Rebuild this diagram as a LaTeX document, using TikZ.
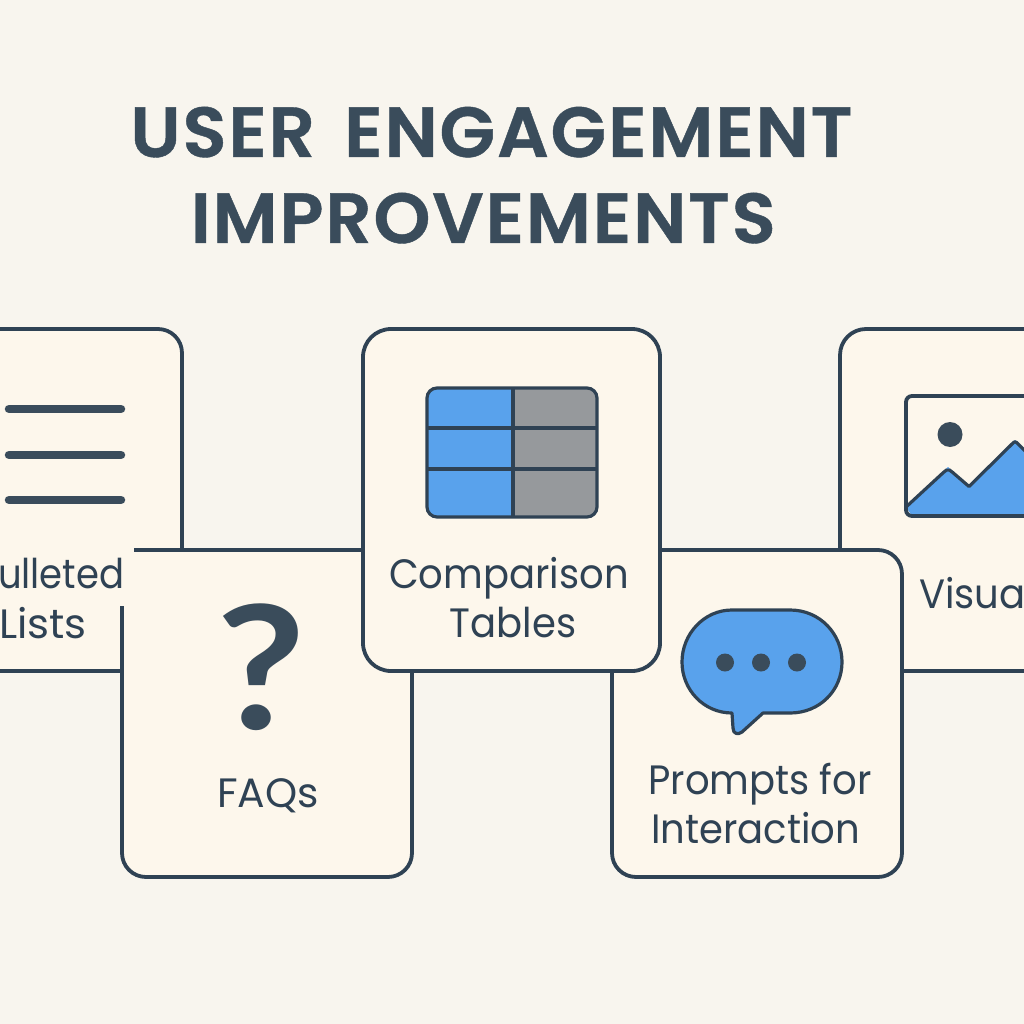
\documentclass[tikz,border=0pt]{standalone}
\usepackage{fontspec}
\setmainfont{Poppins}[FakeStretch=0.94]
\newfontfamily\titlefont[LetterSpace=2.4,FakeStretch=1.022,FakeBold=0.6]{Poppins SemiBold}
\newfontfamily\qfont{Lato Bold}
\definecolor{bgc}{HTML}{F8F5EE}
\definecolor{cardc}{HTML}{FDF7EC}
\definecolor{ink}{HTML}{2F4254}
\definecolor{titlec}{HTML}{3A4C5B}
\definecolor{bluec}{HTML}{59A2EC}
\definecolor{grayc}{HTML}{96999C}
\tikzset{
  edge/.style={draw=ink,line width=3.8pt,line cap=butt,line join=round},
  cardfill/.style={fill=cardc,draw=none},
  icon/.style={draw=ink,line width=3.2pt,line join=round},
  bar/.style={draw=titlec,line width=8.5pt,line cap=round},
  dot/.style={fill=titlec,draw=none},
  lab/.style={text=ink,inner sep=0pt,anchor=base,font=\fontsize{41}{41}\selectfont},
  ttl/.style={text=titlec,inner sep=0pt,anchor=base west,font=\titlefont\fontsize{71}{71}\selectfont}
}
\begin{document}
\begin{tikzpicture}[x=1pt,y=-1pt]
\useasboundingbox (0,0) rectangle (1024,1024);
\fill[bgc] (0,0) rectangle (1024,1024);
\clip (0,0) rectangle (1024,1024);
% title
\node[ttl] (t1) at (130,157) {USER\hspace{10pt} ENGAGEMENT};
\node[ttl] (t2) at (190.5,243) {IMPROVEMENTS};
% left card
\path[cardfill] (-30,329) [rounded corners=24pt] -- (182,329) -- (182,671) [sharp corners] -- (-30,671) -- cycle;
\draw[edge] (-30,329) [rounded corners=24pt] -- (182,329) [sharp corners] -- (182,552);
\draw[edge] (0,671) -- (122,671);
\foreach \yy in {409,455,500} \draw[bar] (9,\yy) -- (121,\yy);
% visuals card
\path[cardfill] (1054,329) [rounded corners=26pt] -- (840,329) -- (840,671) [sharp corners] -- (1054,671) -- cycle;
\draw[edge] (1054,329) [rounded corners=26pt] -- (840,329) [sharp corners] -- (840,552);
\draw[edge] (900,671) -- (1024,671);
\path[fill=cardc] (906,396) rectangle (1040,516);
\fill[bluec] (906,507) -- (948,467) -- (969,486.5) -- (1015,440) -- (1040,465) -- (1040,516) -- (912,516) -- cycle;
\draw[icon] (906,507) [rounded corners=2pt] -- (945,471) -- (948,469) -- (951,471) [sharp corners] -- (969,486.5) [rounded corners=2pt] -- (1012,444) -- (1015,441) -- (1018,444) [sharp corners] -- (1040,466);
\draw[edge] (1040,396) [rounded corners=6pt] -- (906,396) -- (906,516) [sharp corners] -- (1040,516);
\fill[dot] (950,434.5) ellipse [x radius=12.5pt,y radius=12.5pt];
% faq card
\path[cardfill] (122,550) -- (412,550) [rounded corners=24pt] -- (412,877) -- (122,877) [sharp corners] -- (122,550) -- cycle;
\draw[edge] (134,550) -- (370,550);
\draw[edge] (122,606) [rounded corners=24pt] -- (122,877) -- (412,877) [sharp corners] -- (412,660);
\node[text=titlec,inner sep=0pt,anchor=base,font=\qfont\fontsize{172}{172}\selectfont] (q) at (261,729) {\scalebox{1.13}[1]{?}};
\node[lab] (faq) at (268,807) {\scalebox{1.06}[1]{FAQs}};
\node[lab,anchor=base east] (b1) at (124.5,588) {\scalebox{0.96}[1]{ulleted}};
\node[lab,anchor=base east] (b2) at (87,638) {\scalebox{1.09}[1]{Lists}};
% prompts card
\path[cardfill] (612,550) [rounded corners=24pt] -- (902,550) -- (902,877) -- (612,877) [sharp corners] -- cycle;
\draw[edge] (640,550) [rounded corners=24pt] -- (902,550) -- (902,877) -- (612,877) [sharp corners] -- (612,660);
\draw[icon,fill=bluec] (732,713) -- (733,728) .. controls (733,734) and (738,735) .. (742,732) -- (763,713) -- (790,713)
  .. controls (820,713) and (842,690) .. (842,662) .. controls (842,634) and (820,610) .. (790,610) -- (732,610)
  .. controls (704,610) and (682,634) .. (682,662) .. controls (682,690) and (704,713) .. (732,713) -- cycle;
\foreach \xx in {725,761,797} \fill[dot] (\xx,662.5) circle [radius=9pt];
\node[lab] (p1) at (760,794.5) {Prompts for};
\node[lab] (p2) at (755.5,843) {Interaction};
\node[lab,anchor=base west] (v) at (919,608) {Visua};
% comparison card
\draw[edge,fill=cardc,rounded corners=28pt] (363,329) rectangle (660,671);
\begin{scope}
\path[clip,rounded corners=10pt] (427,388) rectangle (597,517);
\fill[bluec] (427,388) rectangle (513,517);
\fill[grayc] (513,388) rectangle (597,517);
\draw[ink,line width=3.2pt] (513,388) -- (513,517);
\draw[ink,line width=3.2pt] (427,428) -- (597,428);
\draw[ink,line width=3.2pt] (427,469) -- (597,469);
\end{scope}
\draw[icon,rounded corners=10pt] (427,388) rectangle (597,517);
\node[lab] (c1) at (509,588) {Comparison};
\node[lab] (c2) at (513,637) {Tables};
\end{tikzpicture}
\end{document}
